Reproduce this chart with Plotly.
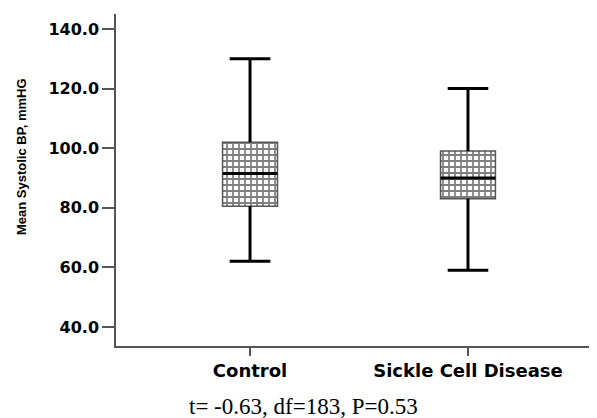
import plotly.graph_objects as go

groups = ["Control", "Sickle Cell Disease"]
lower_whisker = [62.0, 59.0]
q1 = [80.5, 83.0]
median = [91.5, 90.0]
q3 = [102.0, 99.0]
upper_whisker = [130.0, 120.0]
y_ticks = [40, 60, 80, 100, 120, 140]
y_title = "Mean Systolic BP, mmHG"
footnote = "t= -0.63, df=183, P=0.53"

BOX_W = 0.252
WIDE = "DejaVu Sans, Verdana, sans-serif"
NARROW = "Liberation Sans, Arial, sans-serif"

# the page body adds an 8px offset; compensate so the plot lands where the reference has it
OFF = 8
FIG_W, FIG_H = 597 - OFF, 418 - OFF
# plot area in page pixels: x 116..597, y 14..346
L, R, T, B = 116 - OFF, 0, 14 - OFF, 418 - 346
PW, PH = FIG_W - L - R, FIG_H - T - B


def px_x(page_x):
    return (page_x - OFF - L) / PW


def px_y(page_y):
    return (FIG_H - B - (page_y - OFF)) / PH


fig = go.Figure()

# patterned box body (q1 -> q3)
fig.add_trace(go.Bar(
    x=groups,
    base=q1,
    y=[b - a for a, b in zip(q1, q3)],
    width=BOX_W,
    marker=dict(
        color="white",
        line=dict(color="#555555", width=1.5),
        pattern=dict(shape="+", fgcolor="black", bgcolor="white", size=6, solidity=0.5),
    ),
    hoverinfo="skip",
    showlegend=False,
))

# median line (collapsed box at the median)
fig.add_trace(go.Box(
    x=groups,
    q1=median,
    median=median,
    q3=median,
    lowerfence=median,
    upperfence=median,
    width=BOX_W,
    fillcolor="rgba(0,0,0,0)",
    line=dict(color="black", width=3),
    boxpoints=False,
    hoverinfo="skip",
    showlegend=False,
))

# whisker stems
fig.add_trace(go.Scatter(
    x=groups,
    y=q3,
    mode="markers",
    marker=dict(size=1, color="rgba(0,0,0,0)"),
    error_y=dict(type="data", symmetric=False,
                 array=[u - q for u, q in zip(upper_whisker, q3)],
                 arrayminus=[0, 0],
                 color="black", thickness=3, width=0),
    hoverinfo="skip",
    showlegend=False,
))
fig.add_trace(go.Scatter(
    x=groups,
    y=q1,
    mode="markers",
    marker=dict(size=1, color="rgba(0,0,0,0)"),
    error_y=dict(type="data", symmetric=False,
                 array=[0, 0],
                 arrayminus=[q - l for q, l in zip(q1, lower_whisker)],
                 color="black", thickness=3, width=0),
    hoverinfo="skip",
    showlegend=False,
))

# whisker caps
for ends in (upper_whisker, lower_whisker):
    fig.add_trace(go.Scatter(
        x=groups,
        y=ends,
        mode="markers",
        marker=dict(symbol="line-ew", size=29, color="black",
                    line=dict(color="black", width=3)),
        hoverinfo="skip",
        showlegend=False,
    ))

axis_common = dict(
    showline=True,
    linecolor="#555555",
    linewidth=1.5,
    ticks="outside",
    tickwidth=1.5,
    tickcolor="#555555",
    showgrid=False,
    zeroline=False,
    automargin=False,
)

fig.update_layout(
    width=FIG_W,
    height=FIG_H,
    margin=dict(l=L, r=R, t=T, b=B),
    plot_bgcolor="white",
    paper_bgcolor="white",
    barmode="overlay",
    xaxis=dict(
        type="category",
        range=[-0.615, 1.592],
        ticklen=8,
        tickfont=dict(family=WIDE, size=18, color="black", weight="bold"),
        **axis_common,
    ),
    yaxis=dict(
        range=[33.6, 145.0],
        tickvals=y_ticks,
        tickformat=".1f",
        ticklen=12,
        tickfont=dict(family=WIDE, size=16, color="black", weight="bold"),
        **axis_common,
    ),
    annotations=[
        dict(
            text=y_title,
            xref="paper", yref="paper",
            x=px_x(21), y=px_y(157),
            xanchor="center", yanchor="middle",
            textangle=-90,
            showarrow=False,
            font=dict(family=NARROW, size=13, color="black", weight="bold"),
        ),
        dict(
            text=footnote,
            xref="paper", yref="paper",
            x=px_x(303), y=px_y(406),
            xanchor="center", yanchor="middle",
            showarrow=False,
            font=dict(family="Liberation Serif, Times New Roman, serif", size=23, color="black"),
        ),
    ],
)

fig.write_html("out.html")
